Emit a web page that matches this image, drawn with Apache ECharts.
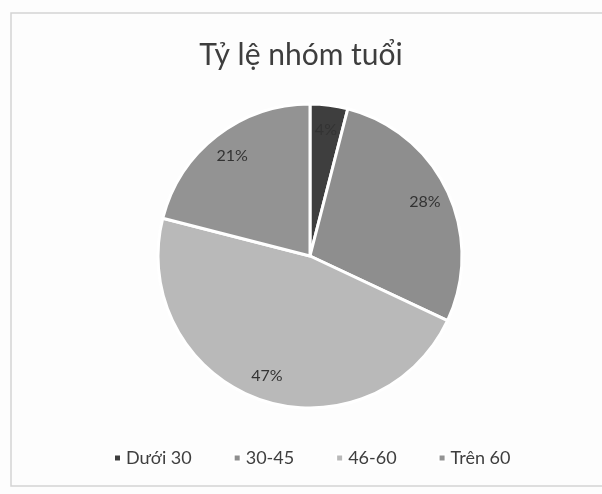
<!DOCTYPE html>
<html>
<head>
<meta charset="utf-8">
<script src="https://cdn.jsdelivr.net/npm/echarts@6/dist/echarts.min.js"></script>
<style>
    html, body { margin: 0; padding: 0; background: #fdfdfd; }
    #container { width: 602px; height: 494px; }
</style>
</head>
<body>
<div id="container"></div>
<script>
// du lieu
var categories = ['Dưới 30', '30-45', '46-60', 'Trên 60'];
var values = [4, 28, 47, 21];
var colors = ['#3e3e3e', '#8e8e8e', '#b9b9b9', '#939393'];

var chart = echarts.init(document.getElementById('container'));

function getSeriesData() {
    var arr = [];
    for (var i = 0; i < categories.length; i++) {
        arr.push({ name: categories[i], value: values[i] });
    }
    return arr;
}

var option = {
    backgroundColor: '#fdfdfd',
    color: colors,
    title: {
        text: 'Tỷ lệ nhóm tuổi',
        left: 'center',
        top: 35,
        padding: [5, 0, 5, 18],
        textStyle: {
            fontFamily: 'Lato',
            fontSize: 30,
            fontWeight: 'normal',
            color: '#3e3e3e'
        }
    },
    legend: {
        data: categories,
        bottom: 22,
        left: 108,
        icon: 'rect',
        itemWidth: 7,
        itemHeight: 7,
        itemGap: 41,
        textStyle: {
            fontFamily: 'Lato',
            fontSize: 18,
            color: '#3e3e3e'
        }
    },
    graphic: [{
        type: 'rect',
        shape: { x: 11, y: 13, width: 600, height: 473 },
        style: { fill: 'none', stroke: '#d4d4d4', lineWidth: 1.5 },
        silent: true
    }],
    series: [{
        type: 'pie',
        center: [310, 256],
        radius: [0, 152],
        startAngle: 90,
        clockwise: true,
        animation: false,
        silent: true,
        label: { show: false },
        labelLine: { show: false },
        itemStyle: {
            borderColor: '#ffffff',
            borderWidth: 3
        },
        data: getSeriesData()
    }, {
        // chi de dat nhan gan mep hon
        type: 'pie',
        center: [310, 256],
        radius: [96, 152],
        startAngle: 90,
        clockwise: true,
        animation: false,
        silent: true,
        legendHoverLink: false,
        itemStyle: { color: 'rgba(0,0,0,0)', borderWidth: 0 },
        label: {
            show: true,
            position: 'inside',
            formatter: '{c}%',
            fontFamily: 'Lato',
            fontSize: 16,
            color: '#333333'
        },
        labelLine: { show: false },
        data: getSeriesData()
    }]
};
chart.setOption(option);
</script>
</body>
</html>
